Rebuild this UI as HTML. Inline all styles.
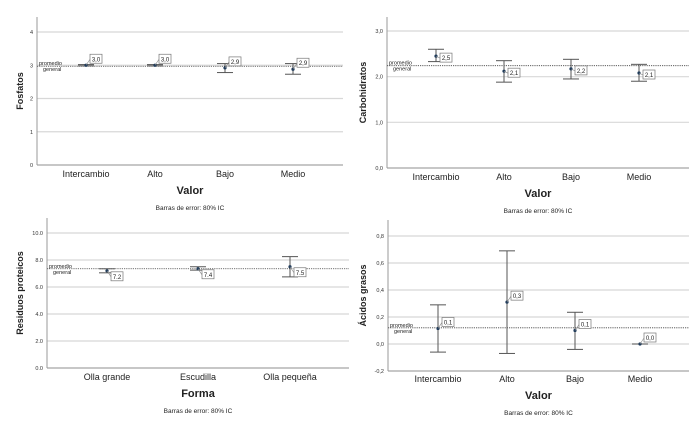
<!DOCTYPE html>
<html><head><meta charset="utf-8"><style>
html,body{margin:0;padding:0;background:#fff;}
svg{display:block;font-family:"Liberation Sans",sans-serif;}
</style></head><body>
<svg id="c" width="699" height="422" viewBox="0 0 699 422"></svg>
<script>
const catsValor = ["Intercambio","Alto","Bajo","Medio"];
const catsForma = ["Olla grande","Escudilla","Olla pequeña"];
const fosMeans = [3.0, 3.0, 2.92, 2.88];
const fosLo = [2.98, 2.98, 2.78, 2.73];
const fosHi = [3.02, 3.02, 3.05, 3.05];
const fosLabels = ["3,0","3,0","2,9","2,9"];
const fosTicks = [0,1,2,3,4];
const fosTickLabels = ["0","1","2","3","4"];
const carMeans = [2.45, 2.12, 2.17, 2.08];
const carLo = [2.33, 1.88, 1.95, 1.9];
const carHi = [2.6, 2.35, 2.38, 2.27];
const carLabels = ["2,5","2,1","2,2","2,1"];
const carTicks = [0,1,2,3];
const carTickLabels = ["0,0","1,0","2,0","3,0"];
const resMeans = [7.2, 7.35, 7.5];
const resLo = [7.05, 7.25, 6.75];
const resHi = [7.35, 7.5, 8.25];
const resLabels = ["7.2","7.4","7.5"];
const resTicks = [0,2,4,6,8,10];
const resTickLabels = ["0.0","2.0","4.0","6.0","8.0","10.0"];
const acMeans = [0.115, 0.31, 0.1, 0.0];
const acLo = [-0.06, -0.07, -0.04, 0.0];
const acHi = [0.29, 0.69, 0.235, 0.0];
const acLabels = ["0,1","0,3","0,1","0,0"];
const acTicks = [-0.2,0,0.2,0.4,0.6,0.8];
const acTickLabels = ["-0,2","0,0","0,2","0,4","0,6","0,8"];
const grandMeans = [2.97, 2.24, 7.35, 0.12];

const svg = document.getElementById('c');
const NS = "http://www.w3.org/2000/svg";
function mk(tag, attrs, parent, text){
  const e = document.createElementNS(NS, tag);
  for (const k in attrs) e.setAttribute(k, attrs[k]);
  if (text !== undefined) e.textContent = text;
  parent.appendChild(e);
  return e;
}
function panel(cfg){
  const g = mk('g', {}, svg);
  
  
  const y = v => cfg.y0 + (v - cfg.t0) / (cfg.t1 - cfg.t0) * (cfg.y1 - cfg.y0);
  const x = i => cfg.cx[i];
  cfg.ticks.forEach((t, i) => {
    const gl = mk('line', {x1: cfg.left, x2: cfg.right, y1: y(t), y2: y(t), stroke: '#d8d8d8', 'stroke-width': 1.2}, g);
    
    
    const tl = mk('text', {x: cfg.left - 4, y: y(t) + 2, 'font-size': 5.5, 'text-anchor': 'end', fill: '#333'}, g, cfg.tickLabels[i]);
    
    
  });
  const ax = mk('line', {x1: cfg.left, x2: cfg.left, y1: cfg.top, y2: cfg.bottom, stroke: '#999', 'stroke-width': 1}, g);
  
  
  const bx = mk('line', {x1: cfg.left, x2: cfg.right, y1: cfg.bottom, y2: cfg.bottom, stroke: '#999', 'stroke-width': 1}, g);
  
  
  const gm = y(cfg.grand);
  const ml = mk('line', {x1: cfg.left, x2: cfg.right, y1: gm, y2: gm, stroke: '#444', 'stroke-width': 0.8, 'stroke-dasharray': '1.2,1'}, g);
  
  
  const p1 = mk('text', {x: cfg.left + 2, y: gm - 1, 'font-size': 5.5, fill: '#222'}, g, 'promedio');
  
  
  const p2 = mk('text', {x: cfg.left + 6, y: gm + 5, 'font-size': 5.5, fill: '#222'}, g, 'general');
  
  
  cfg.cats.forEach((c, i) => {
    const cx = x(i);
    const eb = mk('g', {}, g);
    
    
    mk('line', {x1: cx, x2: cx, y1: y(cfg.hi[i]), y2: y(cfg.lo[i]), stroke: '#555', 'stroke-width': 1}, eb);
    mk('line', {x1: cx - 8, x2: cx + 8, y1: y(cfg.hi[i]), y2: y(cfg.hi[i]), stroke: '#555', 'stroke-width': 1}, eb);
    mk('line', {x1: cx - 8, x2: cx + 8, y1: y(cfg.lo[i]), y2: y(cfg.lo[i]), stroke: '#555', 'stroke-width': 1}, eb);
    const py = y(cfg.means[i]);
    const pt = mk('circle', {cx: cx, cy: py, r: 1.6, fill: '#1f3b5a'}, g);
    
    
    const ly = py + cfg.labDy;
    mk('line', {x1: cx, x2: cx + 4, y1: py, y2: ly, stroke: '#888', 'stroke-width': 0.6}, g);
    const lb = mk('rect', {x: cx + 4, y: ly - 5, width: 12, height: 9, fill: '#fff', stroke: '#777', 'stroke-width': 0.7}, g);
    
    
    const lt = mk('text', {x: cx + 10, y: ly + 2, 'font-size': 6, 'text-anchor': 'middle', fill: '#222'}, g, cfg.labels[i]);
    
    
    const cl = mk('text', {x: cx, y: cfg.catY, 'font-size': 9, 'text-anchor': 'middle', fill: '#222'}, g, c);
    
    
  });
  const xt = mk('text', {x: (cfg.left + cfg.right) / 2, y: cfg.catY + 17, 'font-size': 11, 'font-weight': 'bold', 'text-anchor': 'middle', fill: '#222'}, g, cfg.xTitle);
  
  
  const nt = mk('text', {x: (cfg.left + cfg.right) / 2, y: cfg.catY + 33, 'font-size': 6.5, 'text-anchor': 'middle', fill: '#222'}, g, 'Barras de error: 80% IC');
  
  
  const yt = mk('text', {x: 0, y: 0, 'font-size': 9, 'font-weight': 'bold', 'text-anchor': 'middle', fill: '#222', transform: `translate(${cfg.ytx},${(cfg.top + cfg.bottom) / 2}) rotate(-90)`}, g, cfg.yTitle);
  
  
}
panel({name:'fosfatos-panel', cats:catsValor, means:fosMeans, lo:fosLo, hi:fosHi, labels:fosLabels, ticks:fosTicks, tickLabels:fosTickLabels,
  grand:grandMeans[0], t0:0, t1:4, y0:165, y1:32, left:37, right:343, top:17, bottom:165, cx:[86,155,225,293], catY:177, xTitle:'Valor', yTitle:'Fosfatos', ytx:23, labDy:-6});
panel({name:'carbohidratos-panel', cats:catsValor, means:carMeans, lo:carLo, hi:carHi, labels:carLabels, ticks:carTicks, tickLabels:carTickLabels,
  grand:grandMeans[1], t0:0, t1:3, y0:168, y1:31, left:387, right:689, top:17, bottom:168, cx:[436,504,571,639], catY:180, xTitle:'Valor', yTitle:'Carbohidratos', ytx:366, labDy:2});
panel({name:'residuos-panel', cats:catsForma, means:resMeans, lo:resLo, hi:resHi, labels:resLabels, ticks:resTicks, tickLabels:resTickLabels,
  grand:grandMeans[2], t0:0, t1:10, y0:368, y1:233, left:47, right:349, top:218, bottom:368, cx:[107,198,290], catY:380, xTitle:'Forma', yTitle:'Residuos proteicos', ytx:23, labDy:6});
panel({name:'acidos-grasos-panel', cats:catsValor, means:acMeans, lo:acLo, hi:acHi, labels:acLabels, ticks:acTicks, tickLabels:acTickLabels,
  grand:grandMeans[3], t0:0, t1:0.8, y0:344, y1:236, left:388, right:689, top:220, bottom:371, cx:[438,507,575,640], catY:382, xTitle:'Valor', yTitle:'Ácidos grasos', ytx:366, labDy:-6});
</script>
</body></html>
